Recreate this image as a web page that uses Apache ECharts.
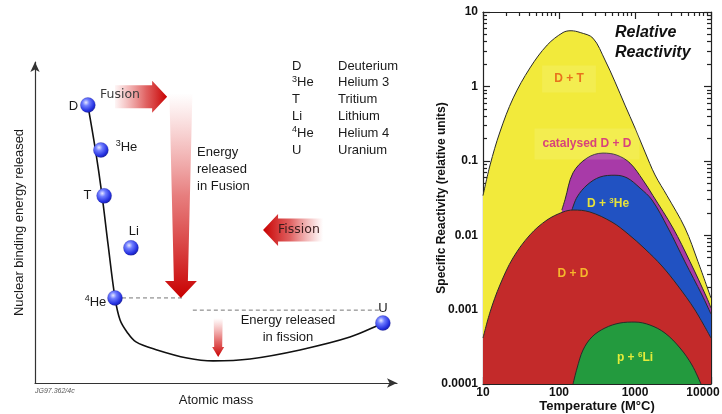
<!DOCTYPE html>
<html><head><meta charset="utf-8">
<script src="https://cdn.jsdelivr.net/npm/echarts@6/dist/echarts.min.js"></script>
<style>html,body{margin:0;padding:0;background:#fff}#c{width:722px;height:414px}</style>
</head><body><div id="c"></div>
<script>
// ===== Left panel: nuclear binding energy (schematic, arbitrary units 0-100) =====
const curveX = [14.6, 16.7, 18.5, 20.2, 22.1, 23.5, 25.4, 27.9, 33.7, 42.0, 49.2, 59.4, 73.2, 87.0, 96.1];
const curveY = [86.6, 72.6, 58.6, 43.0, 26.5, 19.6, 15.9, 12.8, 10.3, 7.8, 6.9, 7.5, 10.3, 14.3, 18.7];
const nuclideNames = ['D', '3He', 'T', 'Li', '4He', 'U'];
const nuclideX = [14.6, 18.2, 19.1, 26.5, 22.1, 96.1];
const nuclideY = [86.6, 72.6, 58.3, 42.1, 26.5, 18.7];
const legendSymbols = ['D', '3He', 'T', 'Li', '4He', 'U'];
const legendNames = ['Deuterium', 'Helium 3', 'Tritium', 'Lithium', 'Helium 4', 'Uranium'];
const fissionLevelX = [43.6, 95.3];
const fissionLevelY = 22.7;
const fusionLevelEndX = 40.9;

// ===== Right panel: relative reactivity (temperature in M°C, reactivity in relative units) =====
const tDT = [10, 12.4, 16.7, 25, 41.5, 70, 113, 144, 190, 280, 403, 546, 738, 1000, 1355, 1834, 2640, 4550, 6750, 10000];
const rDT = [0.034, 0.088, 0.244, 0.70, 1.77, 3.6, 5.3, 5.6, 5.3, 4.45, 2.26, 1.15, 0.56, 0.276, 0.131, 0.0645, 0.034, 0.0125, 0.0044, 0.00143];
const tCat = [109, 120, 153, 234, 379, 580, 860, 1274, 1725, 3160, 5300, 8850, 10000];
const rCat = [0.0218, 0.030, 0.069, 0.109, 0.127, 0.119, 0.093, 0.055, 0.034, 0.0125, 0.0044, 0.00143, 0.00105];
const tD3He = [148, 173, 234, 346, 545, 785, 1164, 1674, 2720, 4550, 7620, 10000];
const rD3He = [0.0218, 0.0326, 0.0473, 0.0605, 0.064, 0.059, 0.043, 0.0297, 0.0125, 0.00437, 0.00157, 0.00087];
const tDD = [10, 12.4, 16.7, 24.8, 41.5, 69.5, 113, 153, 255, 498, 810, 1355, 2260, 3680, 6150, 10000];
const rDD = [0.000415, 0.00093, 0.00214, 0.00494, 0.0101, 0.016, 0.0205, 0.0218, 0.0205, 0.015, 0.0104, 0.00653, 0.00386, 0.00208, 0.00099, 0.000415];
const tPLi = [153, 173, 207, 272, 403, 635, 1000, 1574, 2480, 3910, 5620, 7380];
const rPLi = [0.0001, 0.000164, 0.000286, 0.00043, 0.000566, 0.00066, 0.00068, 0.00062, 0.000484, 0.000305, 0.00018, 0.0001];
const xTickLabels = [10, 100, 1000, 10000];
const yTickLabels = [0.0001, 0.001, 0.01, 0.1, 1, 10];

const SANS = '"Liberation Sans", Arial, Helvetica, sans-serif';
const pair = (xs, ys) => xs.map((x, i) => [x, ys[i]]);
const minorX = [], minorY = [];
for (let d = 10; d < 10000; d *= 10) for (let k = 2; k <= 9; k++) minorX.push(k * d);
for (let d = 0.0001; d < 10; d *= 10) for (let k = 2; k <= 9; k++) minorY.push(+(k * d).toPrecision(3));

function arrowPoly(a, b, w0, w1, hw, hl) {
  const dx = b[0] - a[0], dy = b[1] - a[1], L = Math.hypot(dx, dy);
  const ux = dx / L, uy = dy / L, nx = -uy, ny = ux;
  const hb = [b[0] - ux * hl, b[1] - uy * hl];
  return [
    [a[0] + nx * w0 / 2, a[1] + ny * w0 / 2],
    [hb[0] + nx * w1 / 2, hb[1] + ny * w1 / 2],
    [hb[0] + nx * hw / 2, hb[1] + ny * hw / 2],
    b,
    [hb[0] - nx * hw / 2, hb[1] - ny * hw / 2],
    [hb[0] - nx * w1 / 2, hb[1] - ny * w1 / 2],
    [a[0] - nx * w0 / 2, a[1] - ny * w0 / 2]
  ];
}
function arrowSeries(from, to, w0, w1, hw, hl, stops) {
  return {
    type: 'custom', coordinateSystem: 'cartesian2d', xAxisIndex: 0, yAxisIndex: 0,
    data: [[0, 0]], silent: true, z: 3,
    renderItem: (p, api) => {
      const a = api.coord(from), b = api.coord(to);
      return { type: 'polygon', shape: { points: arrowPoly(a, b, w0, w1, hw, hl) },
        style: { fill: new echarts.graphic.LinearGradient(a[0], a[1], b[0], b[1], stops, true) } };
    }
  };
}
const richify = s => /^\d/.test(s) ? `{sup|${s[0]}}{n|${s.slice(1)}}` : `{n|${s}}`;
const richBase = {
  n: { fontSize: 13, lineHeight: 16, fontFamily: SANS, color: '#1a1a1a', opacity: 1 },
  sup: { fontSize: 9, lineHeight: 10, verticalAlign: 'top', fontFamily: SANS, color: '#1a1a1a', opacity: 1 }
};
const richG = {
  n: { fontSize: 13, lineHeight: 16, fontFamily: SANS, fill: '#1a1a1a' },
  sup: { fontSize: 9, lineHeight: 10, verticalAlign: 'top', fontFamily: SANS, fill: '#1a1a1a' }
};

const labelPos = [
  { position: 'left', distance: 2, offset: [0, 1] },
  { position: 'right', distance: 7, offset: [0, -3] },
  { position: 'left', distance: 5, offset: [0, 0] },
  { position: 'top', distance: 1, offset: [3, 0] },
  { position: 'left', distance: 1, offset: [0, 4] },
  { position: 'top', distance: -1, offset: [0, 0] }
];

const ball = { type: 'radial', x: 0.38, y: 0.34, r: 0.72,
  colorStops: [{ offset: 0, color: '#e6e8ff' }, { offset: 0.3, color: '#6f7dff' }, { offset: 0.75, color: '#2430e0' }, { offset: 1, color: '#161b96' }] };

const graphics = [];
function txt(x, y, text, o) {
  o = o || {};
  graphics.push({ type: 'text', x, y, z: 100, silent: true,
    style: Object.assign({ text, fontSize: 13, fontFamily: SANS, fill: '#1a1a1a',
      align: o.align || 'left', textAlign: o.align || 'left', verticalAlign: 'middle', textVerticalAlign: 'middle' }, o.style || {}) });
}
legendSymbols.forEach((s, i) => {
  txt(292, 66 + i * 16.8, richify(s), { style: { rich: richG } });
  txt(338, 66 + i * 16.8, legendNames[i]);
});
txt(197, 152, 'Energy'); txt(197, 169, 'released'); txt(197, 186, 'in Fusion');
txt(288, 320, 'Energy released', { align: 'center' });
txt(288, 337, 'in fission', { align: 'center' });
txt(100, 95, 'Fusion', { style: { fontFamily: '"DejaVu Sans", sans-serif', fontSize: 12.5, fill: '#3a3a3a' } });
txt(278, 230, 'Fission', { style: { fontFamily: '"DejaVu Sans", sans-serif', fontSize: 12.5, fill: '#3a1c1c' } });
txt(35, 391, 'JG97.362/4c', { style: { fontSize: 7, fontStyle: 'italic', fill: '#555' } });
txt(615, 33, 'Relative', { style: { fontSize: 16, fontWeight: 'bold', fontStyle: 'italic', fill: '#111' } });
txt(615, 53, 'Reactivity', { style: { fontSize: 16, fontWeight: 'bold', fontStyle: 'italic', fill: '#111' } });
const rb = c => ({ n: { fontSize: 12, fontWeight: 'bold', fontFamily: SANS, fill: c, lineHeight: 15 },
  sup: { fontSize: 8, fontWeight: 'bold', fontFamily: SANS, fill: c, lineHeight: 9, verticalAlign: 'top' } });
txt(569, 79, '{n|D + T}', { align: 'center', style: { rich: rb('#e8721c'), backgroundColor: 'rgba(255,255,215,0.14)', padding: [6, 12] } });
txt(587, 144, '{n|catalysed D + D}', { align: 'center', style: { rich: rb('#d8437a'), backgroundColor: 'rgba(255,255,215,0.14)', padding: [8, 8] } });
txt(608, 204, '{n|D + }{sup|3}{n|He}', { align: 'center', style: { rich: rb('#e6e23a') } });
txt(573, 274, '{n|D + D}', { align: 'center', style: { rich: rb('#f5b52c') } });
txt(635, 358, '{n|p + }{sup|6}{n|Li}', { align: 'center', style: { rich: rb('#e4ec3a') } });

const edge = { lineStyle: { color: '#222', width: 1.2 } };
const rX = (pos, major) => ({
  gridIndex: 1, type: 'log', logBase: 10, min: 10, max: 10000, position: pos,
  axisLine: { show: major, onZero: false, ...edge },
  axisTick: major ? { show: true, inside: true, length: 7, ...edge } : { show: true, inside: true, length: 4, customValues: minorX, ...edge },
  axisLabel: { show: false }, splitLine: { show: false }, minorTick: { show: false }
});
const rY = (pos, major) => ({
  gridIndex: 1, type: 'log', logBase: 10, min: 0.0001, max: 10, position: pos,
  axisLine: { show: major, onZero: false, ...edge },
  axisTick: major ? { show: true, inside: true, length: 7, ...edge } : { show: true, inside: true, length: 4, customValues: minorY, ...edge },
  axisLabel: { show: false }, splitLine: { show: false }, minorTick: { show: false }
});
const xMain = rX('bottom', true);
xMain.axisLabel = { show: true, fontWeight: 'bold', fontSize: 12, color: '#111', fontFamily: SANS, margin: 3,
  formatter: v => (+v === xTickLabels[xTickLabels.length - 1]) ? '{r|' + v + '}' : String(+v),
  rich: { r: { fontWeight: 'bold', fontSize: 12, color: '#111', fontFamily: SANS, padding: [0, 16, 0, 0] } } };
xMain.name = 'Temperature (M°C)'; xMain.nameLocation = 'middle'; xMain.nameGap = 16; xMain.nameMoveOverlap = false;
xMain.nameTextStyle = { fontWeight: 'bold', fontSize: 13, color: '#111', fontFamily: SANS };
const yMain = rY('left', true);
yMain.axisLabel = { show: true, fontWeight: 'bold', fontSize: 12, color: '#111', fontFamily: SANS, margin: 5,
  formatter: v => String(+(+v).toPrecision(3)) };
yMain.name = 'Specific Reactivity (relative units)'; yMain.nameLocation = 'middle'; yMain.nameGap = 35; yMain.nameMoveOverlap = false;
yMain.nameTextStyle = { fontWeight: 'bold', fontSize: 12, color: '#111', fontFamily: SANS };

const area = (xs, ys, color) => ({
  type: 'line', xAxisIndex: 1, yAxisIndex: 1, data: pair(xs, ys), smooth: 0.35, symbol: 'none', silent: true,
  lineStyle: { color: '#2a2a2a', width: 1 }, areaStyle: { color, opacity: 1, origin: 'start' }
});

const option = {
  animation: false,
  backgroundColor: '#fff',
  textStyle: { fontFamily: SANS },
  grid: [
    { left: 35, top: 62, width: 362, height: 321, outerBoundsMode: 'none', containLabel: false },
    { left: 483, top: 12, width: 228, height: 372, outerBoundsMode: 'none', containLabel: false }
  ],
  xAxis: [
    { gridIndex: 0, type: 'value', min: 0, max: 100,
      axisLine: { show: true, symbol: ['none', 'arrow'], symbolSize: [7, 10], lineStyle: { color: '#333', width: 1.2 } },
      axisTick: { show: false }, axisLabel: { show: false }, splitLine: { show: false },
      name: 'Atomic mass', nameLocation: 'middle', nameGap: 11, nameTextStyle: { fontSize: 13, color: '#1a1a1a', fontFamily: SANS } },
    xMain, rX('bottom', false), rX('top', true), rX('top', false)
  ],
  yAxis: [
    { gridIndex: 0, type: 'value', min: 0, max: 100,
      axisLine: { show: true, symbol: ['none', 'arrow'], symbolSize: [7, 10], lineStyle: { color: '#333', width: 1.2 } },
      axisTick: { show: false }, axisLabel: { show: false }, splitLine: { show: false },
      name: 'Nuclear binding energy released', nameLocation: 'middle', nameGap: 9, nameTextStyle: { fontSize: 13, color: '#1a1a1a', fontFamily: SANS } },
    yMain, rY('left', false), rY('right', true), rY('right', false)
  ],
  series: [
    { type: 'line', xAxisIndex: 0, yAxisIndex: 0, data: pair(curveX, curveY), smooth: 0.35, symbol: 'none', silent: true,
      lineStyle: { color: '#111', width: 1.6 }, z: 2 },
    { type: 'line', xAxisIndex: 0, yAxisIndex: 0, data: [[nuclideX[4], nuclideY[4]], [fusionLevelEndX, nuclideY[4]]], symbol: 'none', silent: true,
      lineStyle: { color: '#777', width: 1, type: [4, 3] }, z: 2 },
    { type: 'line', xAxisIndex: 0, yAxisIndex: 0, data: [[fissionLevelX[0], fissionLevelY], [fissionLevelX[1], fissionLevelY]], symbol: 'none', silent: true,
      lineStyle: { color: '#777', width: 1, type: [4, 3] }, z: 2 },
    arrowSeries([22.1, 89.2], [36.5, 89.2], 23, 23, 32, 15,
      [{ offset: 0, color: 'rgba(225,60,60,0.05)' }, { offset: 0.6, color: 'rgba(210,30,30,0.7)' }, { offset: 1, color: 'rgba(200,0,0,1)' }]),
    arrowSeries([40.3, 90.3], [40.3, 26.5], 23, 14, 32, 17,
      [{ offset: 0, color: 'rgba(230,80,80,0.0)' }, { offset: 0.5, color: 'rgba(215,40,40,0.6)' }, { offset: 1, color: 'rgba(200,0,0,1)' }]),
    arrowSeries([79.6, 47.7], [63.0, 47.7], 23, 23, 32, 15,
      [{ offset: 0, color: 'rgba(225,70,70,0.0)' }, { offset: 0.55, color: 'rgba(210,30,30,0.7)' }, { offset: 1, color: 'rgba(200,0,0,1)' }]),
    arrowSeries([50.6, 20.2], [50.6, 8.1], 9, 8, 12, 10,
      [{ offset: 0, color: 'rgba(230,80,80,0.0)' }, { offset: 0.6, color: 'rgba(215,40,40,0.7)' }, { offset: 1, color: 'rgba(200,0,0,1)' }]),
    { type: 'scatter', xAxisIndex: 0, yAxisIndex: 0, symbolSize: 15, silent: true, z: 5,
      itemStyle: { color: ball, opacity: 1, borderColor: 'rgba(30,30,140,0.5)', borderWidth: 0.5 },
      data: nuclideNames.map((n, i) => ({ value: [nuclideX[i], nuclideY[i]], name: n,
        label: Object.assign({ show: true, formatter: richify(n), rich: richBase, color: '#1a1a1a', opacity: 1 }, labelPos[i]) })) },
    area(tDT, rDT, '#f2ea3b'),
    area(tCat, rCat, '#a83aa8'),
    area(tD3He, rD3He, '#2152c2'),
    area(tDD, rDD, '#c32a2a'),
    area(tPLi, rPLi, '#239a3e')
  ],
  graphic: graphics
};
const chart = echarts.init(document.getElementById('c'));
chart.setOption(option);
</script></body></html>
